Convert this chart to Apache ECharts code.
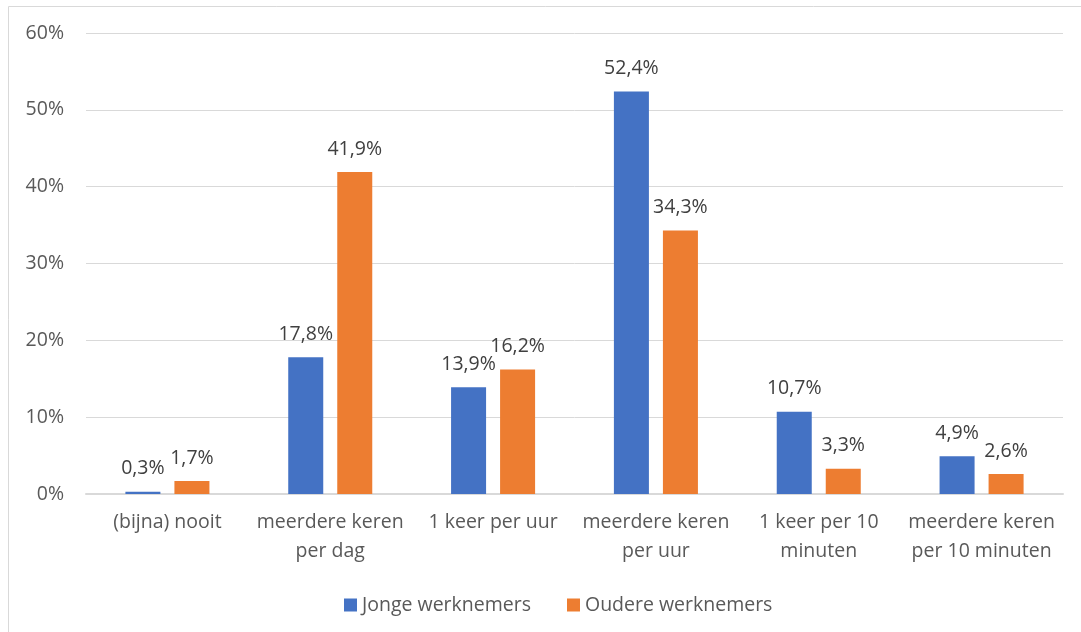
<!DOCTYPE html>
<html><head><meta charset="utf-8">
<script src="https://cdn.jsdelivr.net/npm/echarts@6/dist/echarts.min.js"></script>
<style>html,body{margin:0;padding:0;background:#fff}#c{width:1081px;height:632px}</style>
</head><body><div id="c"></div>
<script>
const categories = ['(bijna) nooit', 'meerdere keren\nper dag', '1 keer per uur', 'meerdere keren\nper uur', '1 keer per 10\nminuten', 'meerdere keren\nper 10 minuten'];
const jonge = [0.3, 17.8, 13.9, 52.4, 10.7, 4.9];
const oudere = [1.7, 41.9, 16.2, 34.3, 3.3, 2.6];
const seriesNames = ['Jonge werknemers', 'Oudere werknemers'];
const yTicks = [0, 10, 20, 30, 40, 50, 60];

const font = '"Open Sans", "Noto Sans", sans-serif';
const fs = 19.5;
const chart = echarts.init(document.getElementById('c'));
const lbl = {show: true, position: 'top', distance: 13, color: '#404040', fontSize: fs, fontFamily: font,
  formatter: p => p.value.toFixed(1).replace('.', ',') + '%'};
chart.setOption({
  animation: false,
  graphic: [{type: 'rect', shape: {x: 8.5, y: 6.5, width: 1090, height: 640}, style: {fill: 'none', stroke: '#d9d9d9', lineWidth: 1}}],
  grid: {left: 86, right: 18, top: 33, bottom: 138},
  legend: {top: 590, left: 339, itemWidth: 13, itemHeight: 13, itemGap: 36, icon: 'rect',
    textStyle: {color: '#595959', fontSize: fs, fontFamily: font}, data: seriesNames},
  xAxis: {type: 'category', data: categories,
    axisLine: {lineStyle: {color: '#d9d9d9', width: 2}}, axisTick: {show: false},
    axisLabel: {color: '#595959', fontSize: fs, fontFamily: font, margin: 14, lineHeight: 29, interval: 0}},
  yAxis: {type: 'value', min: 0, max: 60, interval: 10,
    axisLabel: {color: '#595959', fontSize: fs, fontFamily: font, margin: 22, formatter: v => yTicks.includes(v) ? v + '%' : ''},
    splitLine: {lineStyle: {color: '#d9d9d9', width: 1}}, axisLine: {show: false}, axisTick: {show: false}},
  series: [
    {name: seriesNames[0], type: 'bar', data: jonge, barWidth: '21.5%', barGap: '40%', itemStyle: {color: '#4472c4'}, label: lbl},
    {name: seriesNames[1], type: 'bar', data: oudere, barWidth: '21.5%', itemStyle: {color: '#ed7d31'}, label: lbl}
  ]
});
</script></body></html>
